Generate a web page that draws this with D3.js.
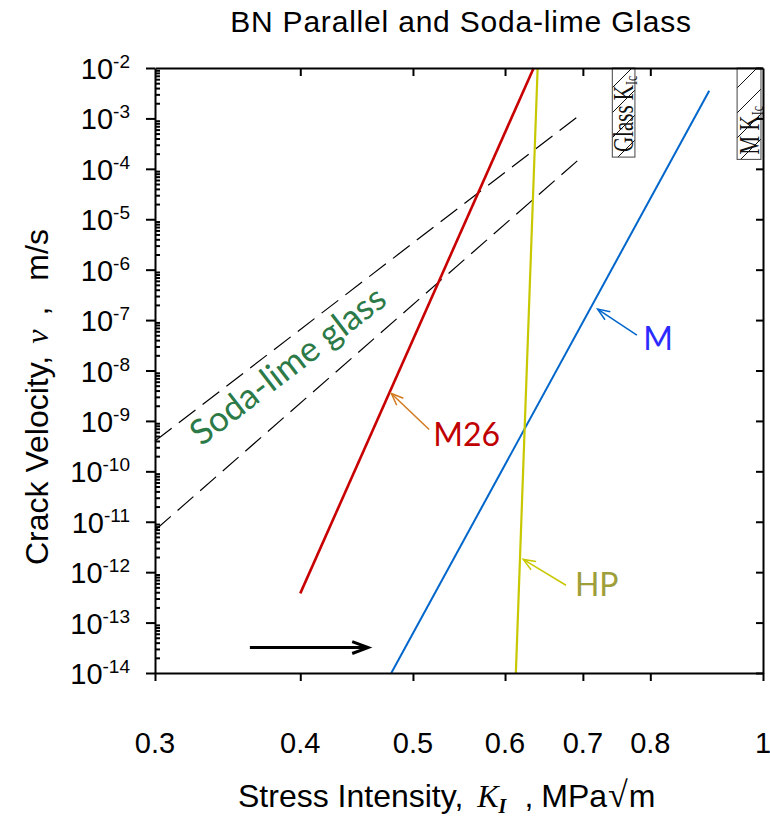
<!DOCTYPE html>
<html><head><meta charset="utf-8">
<script src="https://cdn.jsdelivr.net/npm/d3@7"></script>
<style>body{margin:0;background:#fff}svg{display:block}</style>
</head><body>
<script>
// Stress intensity axis, MPa·√m
const kTicks = [0.3, 0.4, 0.5, 0.6, 0.7, 0.8, 1];
const kTickLabels = ["0.3", "0.4", "0.5", "0.6", "0.7", "0.8", "1"];
// Crack velocity decades, m/s
const vExponents = [-2, -3, -4, -5, -6, -7, -8, -9, -10, -11, -12, -13, -14];

// v–K curves as end points (straight on log–log axes)
const m26K = [0.400, 0.635];
const m26V = [3.8e-13, 1e-2];
const mK = [0.479, 0.899];
const mV = [1e-14, 3.55e-3];
const hpK = [0.613, 0.640];
const hpV = [1e-14, 1e-2];
const glassUpperK = [0.3, 0.7];
const glassUpperV = [4.0e-10, 1.3e-3];
const glassLowerK = [0.3, 0.7];
const glassLowerV = [6.8e-12, 1.8e-4];

// Fracture toughness bands
const kicNames = ["Glass ", "M "];
const kicLow = [0.742, 0.950];
const kicHigh = [0.776, 0.996];
const kicVBottom = [1.71e-4, 1.54e-4];

// Callouts: label anchor, arrow tail, arrow head as [K, v]
const calloutNames = ["M", "M26", "HP"];
const calloutText = [[0.789, 2.54e-8], [0.5205, 3.16e-10], [0.689, 3.34e-13]];
const calloutTail = [[0.779, 5.04e-8], [0.5163, 6.78e-10], [0.677, 5.5e-13]];
const calloutHead = [[0.7207, 1.65e-7], [0.479, 3.5e-9], [0.622, 1.79e-12]];

const sodaLabelAt = [0.329, 3.06e-10];
const pointerFrom = [0.362, 3.2e-14];
const pointerTo = [0.4575, 3.2e-14];

const W = 770, H = 822;
const margin = {top: 68, right: 7, bottom: 149, left: 155};
const sans = "'Liberation Sans', Arial, sans-serif";
const serif = "'Liberation Serif', 'Times New Roman', serif";
const label = "Lato, 'Open Sans', sans-serif";

const svg = d3.select("body").append("svg").attr("width", W).attr("height", H);

const x = d3.scaleLog().domain([0.3, 1]).range([margin.left, W - margin.right]);
const y = d3.scaleLog().domain([1e-14, 1e-2]).range([H - margin.bottom, margin.top]);
const x0 = x.range()[0], x1 = x.range()[1], yb = y.range()[0], yt = y.range()[1];

// title
svg.append("text").attr("x", 461).attr("y", 32).attr("text-anchor", "middle")
  .style("font-family", sans).style("font-size", "30px").style("letter-spacing", "0.8px")
  .text("BN Parallel and Soda-lime Glass");

// hatched toughness bands
const defs = svg.append("defs");
const pat = defs.append("pattern").attr("id", "hatch").attr("patternUnits", "userSpaceOnUse")
  .attr("width", 25).attr("height", 25);
pat.append("path").attr("d", "M-2,27 L27,-2 M-2,2 L2,-2 M23,27 L27,23")
  .attr("stroke", "#111").attr("stroke-width", 1);

kicNames.forEach((name, i) => {
  const rx0 = x(kicLow[i]), rx1 = x(kicHigh[i]), ry1 = y(kicVBottom[i]);
  svg.append("rect").attr("x", rx0).attr("y", yt).attr("width", rx1 - rx0).attr("height", ry1 - yt)
    .attr("fill", "#fff").attr("stroke", "none");
  svg.append("rect").attr("x", rx0).attr("y", yt).attr("width", rx1 - rx0).attr("height", ry1 - yt)
    .attr("fill", "url(#hatch)").attr("stroke", "#444").attr("stroke-width", 1);
  const t = svg.append("text")
    .attr("transform", `translate(${rx1 - 2},${ry1 - 5}) rotate(-90) scale(1,1.45)`)
    .style("font-family", serif).style("font-size", "21px").attr("fill", "#111");
  t.append("tspan").text(name + "K");
  t.append("tspan").attr("dy", 3).style("font-size", "12px").text("Ic");
});

// curves
const line = d3.line().x(d => x(d[0])).y(d => y(d[1]));
const pts = (ks, vs) => ks.map((k, i) => [k, vs[i]]);

svg.append("path").datum(pts(glassUpperK, glassUpperV)).attr("d", line)
  .attr("fill", "none").attr("stroke", "#000").attr("stroke-width", 1.2).attr("stroke-dasharray", "21,9");
svg.append("path").datum(pts(glassLowerK, glassLowerV)).attr("d", line)
  .attr("fill", "none").attr("stroke", "#000").attr("stroke-width", 1.2).attr("stroke-dasharray", "21,9");
svg.append("path").datum(pts(m26K, m26V)).attr("d", line)
  .attr("fill", "none").attr("stroke", "#c80000").attr("stroke-width", 2.6);
svg.append("path").datum(pts(mK, mV)).attr("d", line)
  .attr("fill", "none").attr("stroke", "#0066cc").attr("stroke-width", 2);
svg.append("path").datum(pts(hpK, hpV)).attr("d", line)
  .attr("fill", "none").attr("stroke", "#c8c800").attr("stroke-width", 2.2);

// axes
const frame = svg.append("g");
frame.append("g").attr("transform", `translate(0,${yb})`)
  .call(d3.axisBottom(x).tickValues(kTicks).tickFormat("").tickSize(8).tickSizeOuter(0));
frame.append("g").attr("transform", `translate(0,${yt})`)
  .call(d3.axisTop(x).tickValues(kTicks.slice(1, -1)).tickFormat("").tickSize(-8).tickSizeOuter(0));
frame.append("g").attr("transform", `translate(${x0},0)`)
  .call(d3.axisLeft(y).tickValues(vExponents.map(e => Math.pow(10, e))).tickFormat("").tickSize(9).tickSizeOuter(0));
frame.append("g").attr("transform", `translate(${x1},0)`)
  .call(d3.axisRight(y).tickValues(vExponents.map(e => Math.pow(10, e))).tickFormat("").tickSize(-7).tickSizeOuter(0));
const minor = [];
vExponents.slice(1).forEach(e => { for (let m = 2; m <= 9; m++) minor.push(m * Math.pow(10, e)); });
frame.append("g").attr("transform", `translate(${x0},0)`)
  .call(d3.axisRight(y).tickValues(minor).tickFormat("").tickSize(5).tickSizeOuter(0))
  .call(g => g.select(".domain").remove());
frame.selectAll(".domain").attr("stroke", "#000").attr("stroke-width", 2);
frame.selectAll(".tick line").attr("stroke", "#000").attr("stroke-width", 2);

// tick labels
svg.append("g").selectAll("text").data(kTicks).join("text")
  .attr("x", d => x(d)).attr("y", yb + 80).attr("text-anchor", "middle")
  .style("font-family", sans).style("font-size", "29px")
  .text((d, i) => kTickLabels[i]);
const yl = svg.append("g").selectAll("text").data(vExponents).join("text")
  .attr("x", 130).attr("y", e => y(Math.pow(10, e)) + 11).attr("text-anchor", "end")
  .style("font-family", sans).style("font-size", "29px");
yl.append("tspan").text("10");
yl.append("tspan").attr("dy", -11).style("font-size", "19px").text(e => String(e));

// axis titles
const ylab = svg.append("text").attr("transform", `translate(48,565) rotate(-90)`)
  .style("font-family", sans).style("font-size", "32px");
ylab.append("tspan").text("Crack Velocity,");
ylab.append("tspan").attr("dx", 12).style("font-family", serif).style("font-style", "italic").text("v");
ylab.append("tspan").attr("dx", 14).text(",");
ylab.append("tspan").attr("dx", 26).text("m/s");

const xlab = svg.append("text").attr("x", 238).attr("y", 807)
  .style("font-family", sans).style("font-size", "32px");
xlab.append("tspan").text("Stress Intensity,");
xlab.append("tspan").attr("dx", 14).style("font-family", serif).style("font-style", "italic").text("K");
xlab.append("tspan").attr("dy", 6).style("font-family", serif).style("font-style", "italic")
  .style("font-weight", "bold").style("font-size", "20px").text("I");
xlab.append("tspan").attr("dy", -6).attr("dx", 18).text(",");
xlab.append("tspan").attr("dx", 8).text("MPa");
xlab.append("tspan").attr("dx", 1).style("font-family", serif).style("font-size", "36px").style("font-weight", "300").text("√");
xlab.append("tspan").attr("dx", 1).text("m");

// annotations
function arrowHead(tail, head, len, spread) {
  const dx = tail[0] - head[0], dy = tail[1] - head[1];
  const a = Math.atan2(dy, dx);
  const p1 = [head[0] + len * Math.cos(a + spread), head[1] + len * Math.sin(a + spread)];
  const p2 = [head[0] + len * Math.cos(a - spread), head[1] + len * Math.sin(a - spread)];
  return `M${p1[0]},${p1[1]} L${head[0]},${head[1]} L${p2[0]},${p2[1]}`;
}
const calloutTextColor = ["#2b2bff", "#c00000", "#9e9e3a"];
const calloutArrowColor = ["#0066cc", "#d27a1e", "#c8c800"];
calloutNames.forEach((name, i) => {
  const t = [x(calloutTail[i][0]), y(calloutTail[i][1])];
  const h = [x(calloutHead[i][0]), y(calloutHead[i][1])];
  svg.append("line").attr("x1", t[0]).attr("y1", t[1]).attr("x2", h[0]).attr("y2", h[1])
    .attr("stroke", calloutArrowColor[i]).attr("stroke-width", 1.5);
  svg.append("path").attr("d", arrowHead(t, h, 13, 0.38))
    .attr("fill", "none").attr("stroke", calloutArrowColor[i]).attr("stroke-width", 1.5);
  svg.append("text").attr("x", x(calloutText[i][0])).attr("y", y(calloutText[i][1]))
    .style("font-family", label).style("font-size", "32px").attr("fill", calloutTextColor[i])
    .text(name);
});

const gx0 = x(glassUpperK[0]), gy0 = y(glassUpperV[0]);
const gx1 = x(glassUpperK[1]), gy1 = y(glassUpperV[1]);
const ang = Math.atan2(gy1 - gy0, gx1 - gx0) * 180 / Math.PI;
svg.append("text")
  .attr("transform", `translate(${x(sodaLabelAt[0])},${y(sodaLabelAt[1])}) rotate(${ang})`)
  .style("font-family", label).style("font-size", "35px").attr("fill", "#2b7a47")
  .text("Soda-lime glass");

const pf = [x(pointerFrom[0]), y(pointerFrom[1])], pt = [x(pointerTo[0]), y(pointerTo[1])];
svg.append("line").attr("x1", pf[0]).attr("y1", pf[1]).attr("x2", pt[0] - 2).attr("y2", pt[1])
  .attr("stroke", "#000").attr("stroke-width", 3);
svg.append("path").attr("d", arrowHead(pf, pt, 17, 0.36))
  .attr("fill", "none").attr("stroke", "#000").attr("stroke-width", 3);
</script>
</body></html>
